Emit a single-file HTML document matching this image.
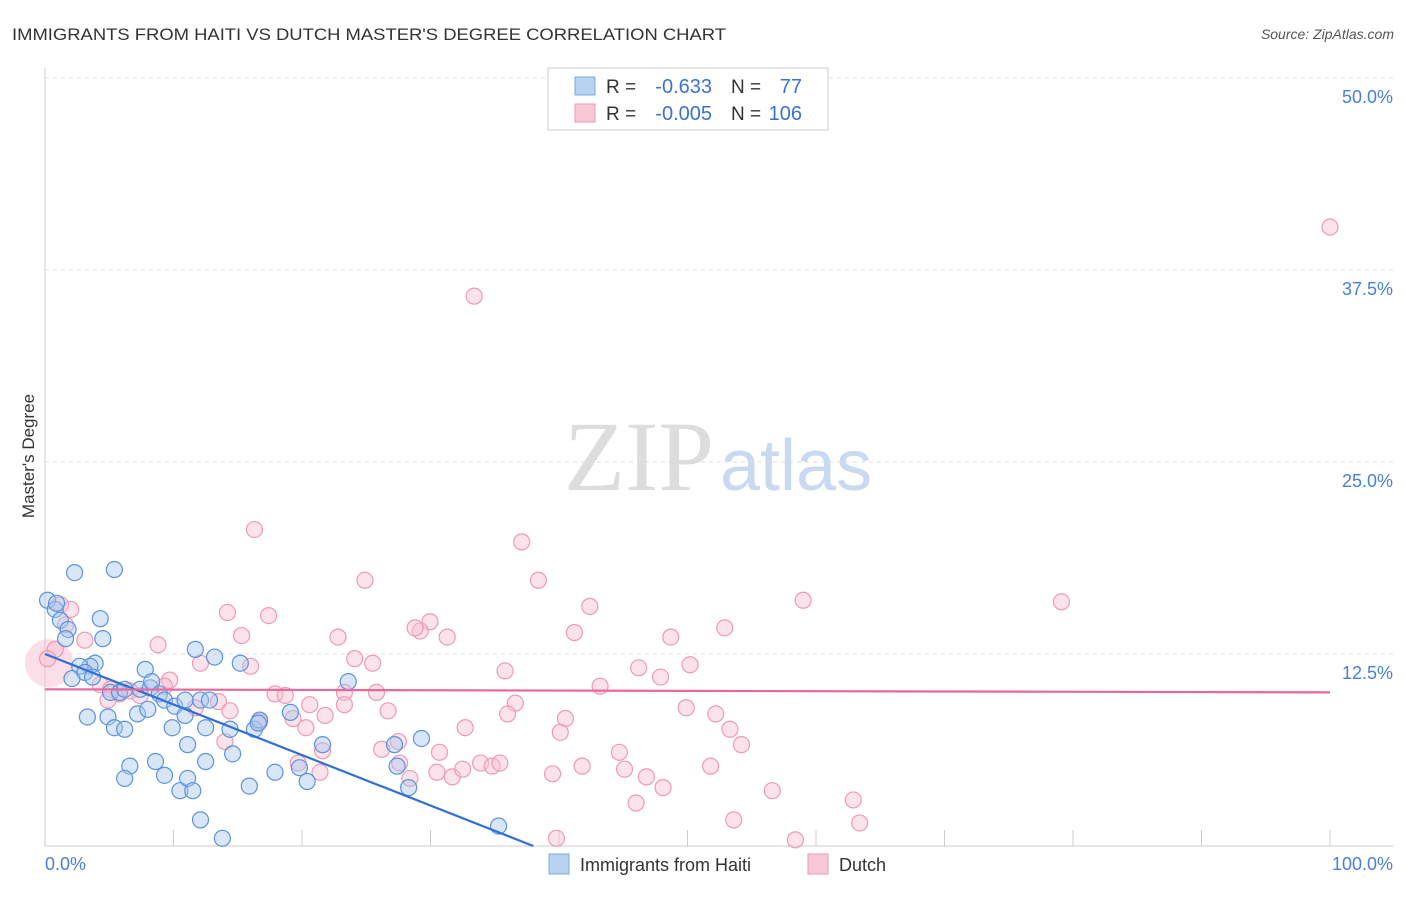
<!DOCTYPE html>
<html><head><meta charset="utf-8"><style>
body{margin:0;background:#fff;font-family:"Liberation Sans",sans-serif}
</style></head><body>
<svg id="c" width="1406" height="892" font-family="Liberation Sans, sans-serif">
<text x="12" y="40" font-size="17" fill="#333" textLength="714" lengthAdjust="spacingAndGlyphs">IMMIGRANTS FROM HAITI VS DUTCH MASTER'S DEGREE CORRELATION CHART</text>
<text x="1394" y="39" font-size="14" fill="#555" font-style="italic" text-anchor="end">Source: ZipAtlas.com</text>
<text x="714" y="490" font-size="100" fill="#ddd" text-anchor="end" style="font-family:'Liberation Serif',serif">ZIP</text>
<text x="720" y="490" font-size="72" fill="#c9daf0">atlas</text>
<text x="34" y="456" font-size="17" fill="#333" text-anchor="middle" transform="rotate(-90 34 456)">Master's Degree</text>
<g id="grid"></g><g id="pts"></g><g id="trend"></g>
<g>
<rect x="548" y="68" width="280" height="62" fill="#fff" stroke="#ccc"/>
<rect x="575" y="77" width="20" height="18" fill="#b7d2f3" stroke="#7aa8e0"/>
<rect x="575" y="104" width="20" height="18" fill="#f9c8d6" stroke="#ee9ab4"/>
<text x="606" y="93" font-size="19" fill="#333">R =</text>
<text x="712" y="93" font-size="20" fill="#3a72d4" text-anchor="end">-0.633</text>
<text x="731" y="93" font-size="19" fill="#333">N =</text>
<text x="802" y="93" font-size="20" fill="#3a72d4" text-anchor="end">77</text>
<text x="606" y="120" font-size="19" fill="#333">R =</text>
<text x="712" y="120" font-size="20" fill="#3a72d4" text-anchor="end">-0.005</text>
<text x="731" y="120" font-size="19" fill="#333">N =</text>
<text x="802" y="120" font-size="20" fill="#3a72d4" text-anchor="end">106</text>
</g>
<g>
<rect x="549" y="854" width="20" height="20" fill="#b7d2f3" stroke="#7aa8e0"/>
<text x="580" y="871" font-size="18" fill="#333">Immigrants from Haiti</text>
<rect x="808" y="854" width="20" height="20" fill="#f9c8d6" stroke="#ee9ab4"/>
<text x="839" y="871" font-size="18" fill="#333">Dutch</text>
</g>
<text x="45" y="870" font-size="18" fill="#4a7fd6">0.0%</text>
<text x="1393" y="870" font-size="18" fill="#4a7fd6" text-anchor="end">100.0%</text>
</svg>
<script>
const yTicks=[12.5,25,37.5,50];
const yTickLabels=["12.5%","25.0%","37.5%","50.0%"];
const haitiX=[0.2,0.8,0.9,1.2,1.8,1.6,2.3,5.4,4.3,4.5,3.9,3.5,2.7,2.1,3.1,3.7,5.1,5.8,6.2,7.4,8.2,7.8,8.3,8.9,9.3,10.1,10.9,11.7,13.2,15.2,12.1,12.8,3.3,4.9,5.4,6.2,7.2,8,9.9,11.1,12.5,14.4,16.3,16.7,19.1,14.6,12.5,8.6,6.6,6.2,9.3,10.5,11.1,11.5,15.9,17.9,19.8,20.4,21.6,27.2,29.3,27.4,28.3,12.1,13.8,35.3,23.6,16.6,10.9];
const haitiY=[16,15.4,15.8,14.7,14.1,13.5,17.8,18,14.8,13.5,11.9,11.7,11.7,10.9,11.3,11,10,10,10.2,10.2,10.3,11.5,10.7,9.9,9.5,9.1,8.5,12.8,12.3,11.9,9.5,9.5,8.4,8.4,7.7,7.6,8.6,8.9,7.7,6.6,7.7,7.6,7.6,8.2,8.7,6,5.5,5.5,5.2,4.4,4.6,3.6,4.4,3.6,3.9,4.8,5.1,4.2,6.6,6.6,7,5.2,3.8,1.7,0.5,1.3,10.7,8,9.5];
const dutchX=[33.4,100,16.3,37.1,24.9,38.4,42.4,59,79.1,14.2,17.4,29.96,29.2,31.3,28.8,15.3,22.8,41.2,48.7,52.9,8.8,24.1,25.5,12.1,16,35.8,46.2,50.2,47.9,43.2,9.7,4.3,5.1,5.8,6.6,9.3,17.9,18.7,23.3,25.8,20.6,21.8,23.3,26.7,36.6,36,40.5,49.9,52.2,53.3,54.2,13.5,14.4,19.3,20.3,14,21.6,26.2,27.5,30.7,32.7,40.1,44.7,19.7,21.4,27.6,28.4,30.5,31.7,32.5,33.9,34.8,35.4,39.5,41.8,45.1,46.8,48.1,51.8,56.6,53.6,62.9,63.4,46,39.8,58.4,1.2,2,1.6,3.1,0.8,0.2,4.9,7.4,11.7,16.7];
const dutchY=[35.8,40.3,20.6,19.8,17.3,17.3,15.6,16,15.9,15.2,15,14.6,14,13.6,14.2,13.7,13.6,13.9,13.6,14.2,13.1,12.2,11.9,11.9,11.7,11.4,11.6,11.8,11,10.4,10.8,10.5,10.2,9.9,10.1,10.4,9.9,9.8,10,10,9.2,8.5,9.2,8.8,9.3,8.6,8.3,9,8.6,7.6,6.6,9.4,8.8,8.3,7.7,6.8,6.2,6.3,6.8,6.1,7.7,7.4,6.1,5.4,4.8,5.4,4.4,4.8,4.5,5,5.4,5.2,5.4,4.7,5.2,5,4.5,3.8,5.2,3.6,1.7,3,1.5,2.8,0.5,0.4,15.7,15.4,14.4,13.4,12.8,12.2,9.5,9.8,9,8.1];
const haitiTrend=[0,12.5,38,0];
const dutchTrend=[0,10.2,100,10.0];
const NS="http://www.w3.org/2000/svg";
const xs=v=>45+v*12.85, ys=v=>846-v*15.36;
const grid=document.getElementById('grid');
function mk(tag,attrs,parent){const e=document.createElementNS(NS,tag);for(const k in attrs)e.setAttribute(k,attrs[k]);parent.appendChild(e);return e;}
mk('line',{x1:45,y1:68,x2:45,y2:846,stroke:'#ccc'},grid);
mk('line',{x1:45,y1:846,x2:1393,y2:846,stroke:'#ccc'},grid);
for(let i=1;i<=10;i++){mk('line',{x1:45+i*128.5,y1:830,x2:45+i*128.5,y2:846,stroke:'#ccc'},grid);}
yTicks.forEach((t,i)=>{
 const l=mk('line',{x1:45,y1:ys(t),x2:1393,y2:ys(t),stroke:'#ddd','stroke-dasharray':'4,4'},grid);
 
 
 const tx=mk('text',{x:1393,y:ys(t)+25,'font-size':18,fill:'#4a7fd6','text-anchor':'end'},grid);
 tx.textContent=yTickLabels[i];
 
 
});
const pts=document.getElementById('pts');
mk('circle',{cx:xs(0.3),cy:ys(11.9),r:24,fill:'rgba(248,190,208,0.5)',stroke:'none'},pts);
dutchX.forEach((x,i)=>{const c=mk('circle',{cx:xs(x),cy:ys(dutchY[i]),r:8,fill:'rgba(248,190,208,0.45)',stroke:'#ee9ab4','stroke-width':1.2},pts);
 
 });
haitiX.forEach((x,i)=>{const c=mk('circle',{cx:xs(x),cy:ys(haitiY[i]),r:8,fill:'rgba(170,200,240,0.45)',stroke:'#5b93dd','stroke-width':1.2},pts);
 
 });
const tr=document.getElementById('trend');
const t1=mk('line',{x1:xs(haitiTrend[0]),y1:ys(haitiTrend[1]),x2:xs(haitiTrend[2]),y2:ys(haitiTrend[3]),stroke:'#2f6fd6','stroke-width':2.2},tr);


const t2=mk('line',{x1:xs(dutchTrend[0]),y1:ys(dutchTrend[1]),x2:xs(dutchTrend[2]),y2:ys(dutchTrend[3]),stroke:'#e9679a','stroke-width':2.2},tr);


</script>
</body></html>
